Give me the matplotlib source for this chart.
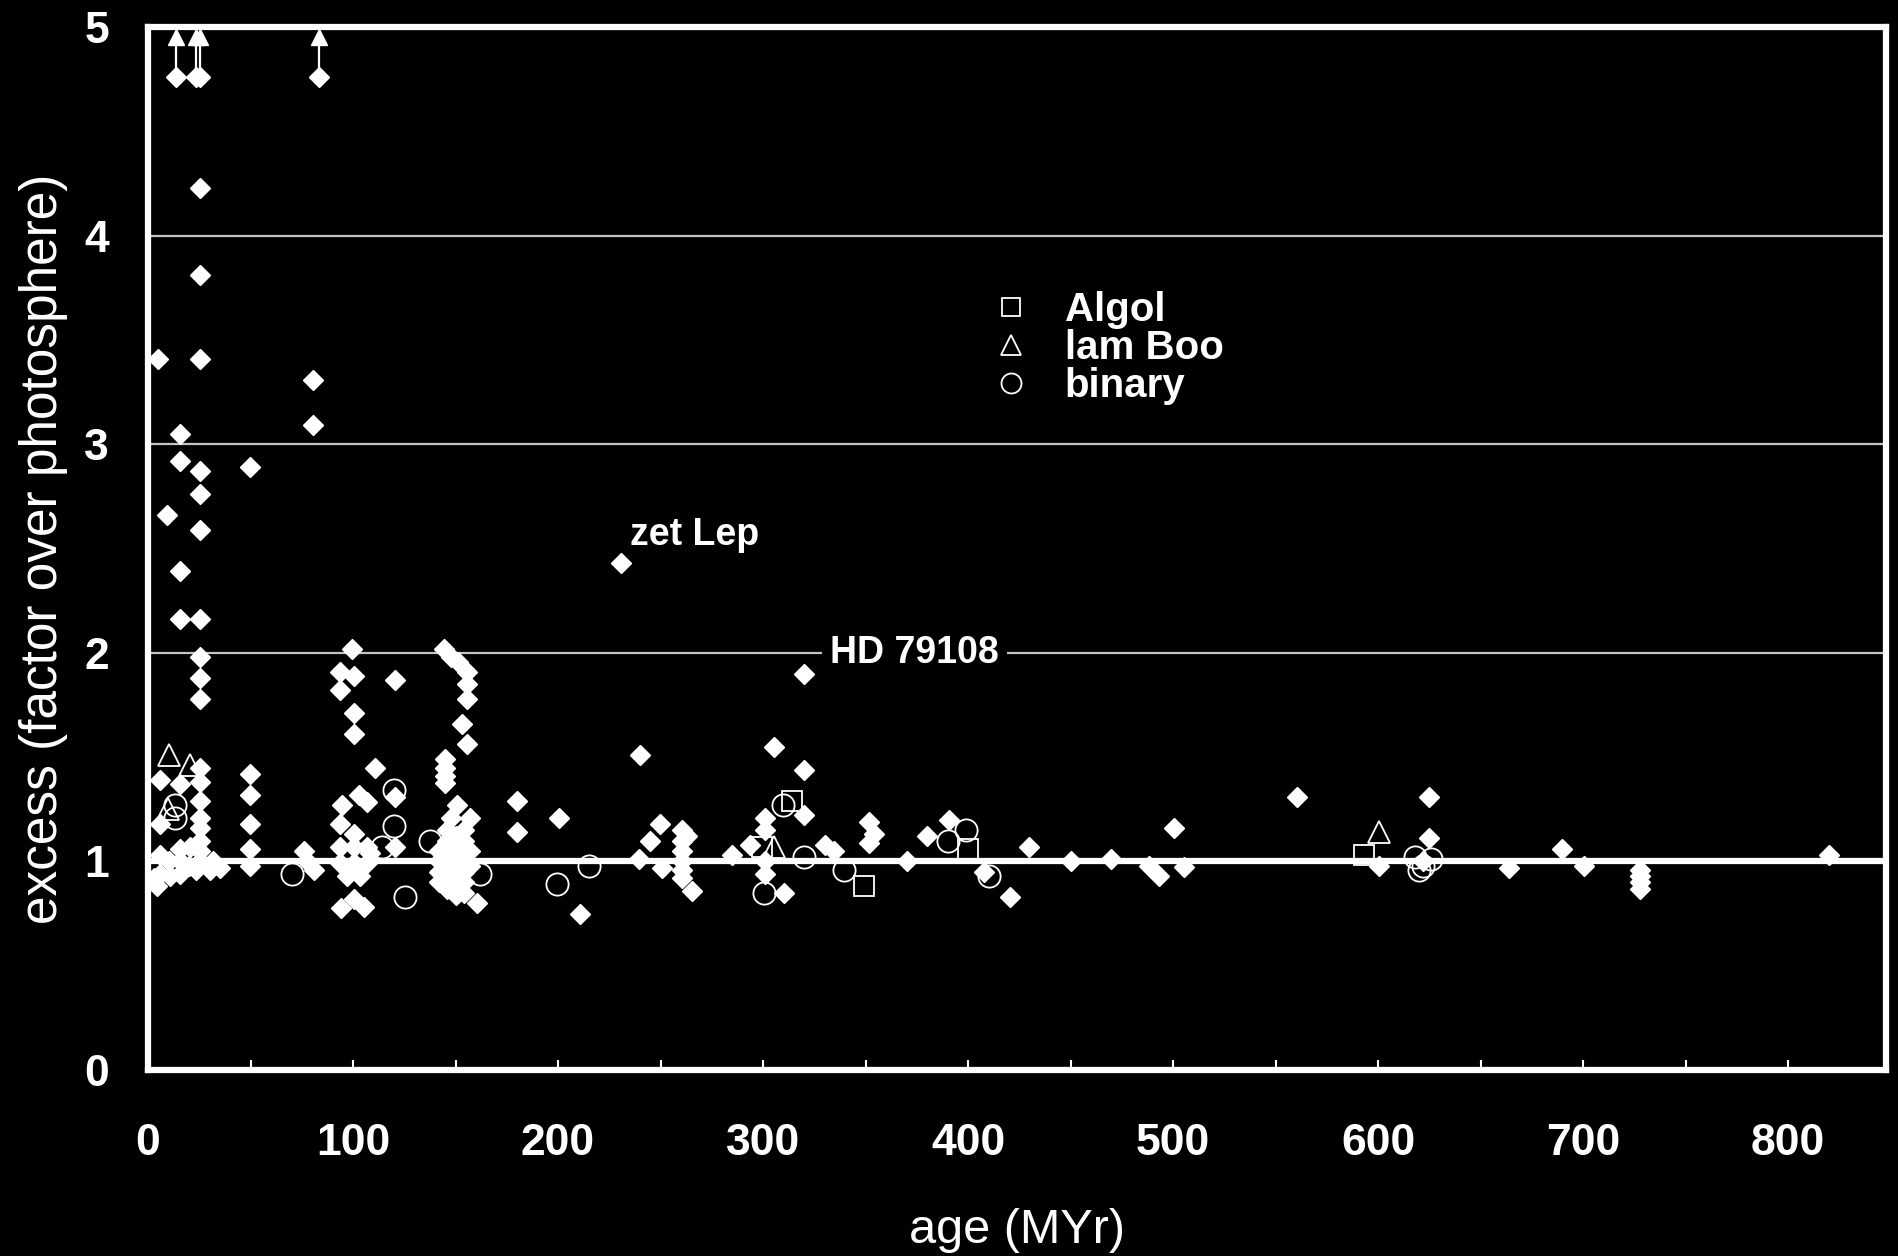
import matplotlib.pyplot as plt
import numpy as np

plt.rcParams['font.family'] = ['Liberation Sans', 'DejaVu Sans']

# excess (factor over photosphere) vs age (MYr)
# plain stars, filled diamonds
star_age = [5, 9.3, 15.4, 15.4, 15.4, 15.4, 25.5, 25.5, 25.5, 25.5, 25.5, 25.5, 25.5, 25.5, 25.5, 25.5,
            49.9, 80.5, 80.5,
            6, 6, 15.4, 25.5, 25.5, 25.5, 25.5, 25.5, 25.5, 25.5, 15.4, 20.6, 6, 6, 10.8, 15.4, 23.5, 30,
            31.6, 15.4, 25.5, 4.3, 10, 20, 35, 3,
            49.9, 49.9, 49.9, 49.9, 49.9, 75.9, 77.5, 80.8,
            99.7, 93.8, 100.3, 93.8, 100.3, 100.3, 110.9, 102.7, 106.8, 94.6, 93.8, 100.3, 93.8, 100.3,
            106.8, 93.8, 100.3, 106.8, 97, 103.5, 108.4, 94, 100.3, 105.2, 120.6, 120.6, 120.6,
            144.2, 148, 151, 155.6, 155.6, 155.6, 153.2, 155.6, 145, 145, 145, 145, 150.7, 157, 148,
            142, 142, 142, 142, 146, 146, 146, 146, 146, 146, 150, 150, 150, 150, 150, 150,
            154, 154, 154, 154, 154, 154, 157, 157, 160.5,
            180, 180, 200.3, 210.9, 230.7, 240.1, 239.3, 245, 249.9, 250.7, 260.5, 260.5, 260.5, 260.5,
            260.5, 260.5, 263, 265.4, 284.9, 293.8, 301.1, 301.1, 301.1, 301.1, 305.2, 310, 319.8,
            319.8, 319.8, 330.4, 334.4, 351.5, 354, 351.5, 370.2, 380, 390.5, 407.6, 429.7, 420.3,
            450, 469.8, 500.6, 493, 488.4, 505.2, 560.3, 600.4, 624.7, 624.7, 622, 663.7, 689.8,
            700.3, 728, 728, 728, 728, 819.8]
star_excess = [3.41, 2.66, 3.05, 2.92, 2.39, 2.16, 4.23, 3.81, 3.41, 2.87, 2.76, 2.59, 2.16, 1.98, 1.88, 1.78,
               2.89, 3.31, 3.09,
               1.39, 1.18, 1.37, 1.45, 1.38, 1.29, 1.21, 1.16, 1.10, 1.05, 1.06, 1.07, 1.03, 0.94, 0.93,
               0.94, 0.96, 0.96, 1.0, 1.0, 1.0, 0.88, 1.0, 0.98, 0.97, 0.92,
               1.42, 1.32, 1.18, 1.06, 0.98, 1.05, 1.0, 0.96,
               2.02, 1.91, 1.89, 1.82, 1.71, 1.61, 1.45, 1.32, 1.285, 1.27, 1.18, 1.13, 1.07, 1.07,
               1.07, 0.99, 0.99, 0.99, 0.93, 0.93, 1.04, 0.775, 0.82, 0.78, 1.87, 1.31, 1.07,
               2.02, 1.98, 1.955, 1.91, 1.85, 1.78, 1.66, 1.565, 1.49, 1.45, 1.41, 1.375, 1.27, 1.21, 1.21,
               1.05, 1.0, 0.95, 0.9, 1.15, 1.1, 1.02, 0.97, 0.92, 0.87, 1.12, 1.05, 0.98, 0.93, 0.88, 0.84,
               1.15, 1.1, 1.0, 0.95, 0.9, 0.85, 1.05, 0.98, 0.80,
               1.29, 1.14, 1.21, 0.75, 2.43, 1.51, 1.01, 1.10, 1.18, 0.97, 1.15, 1.10, 1.05, 1.0,
               0.96, 0.92, 1.12, 0.86, 1.03, 1.08, 1.21, 1.15, 0.94, 1.0, 1.55, 0.85, 1.90,
               1.44, 1.22, 1.08, 1.05, 1.19, 1.13, 1.09, 1.0, 1.12, 1.20, 0.95, 1.07, 0.83,
               1.0, 1.01, 1.16, 0.93, 0.98, 0.975, 1.31, 0.98, 1.31, 1.11, 1.0, 0.97, 1.06,
               0.98, 0.96, 0.93, 0.90, 0.87, 1.03]

# lower limits (excess > 5 shown as arrows)
lim_age = [13.5, 23.5, 25.5, 83.5]
lim_excess = [4.76, 4.76, 4.76, 4.76]
lim_top = [4.95, 4.95, 4.95, 4.95]

algol_age = [299.5, 314.1, 349.1, 400, 593]
algol_excess = [1.07, 1.29, 0.88, 1.06, 1.03]

lamboo_age = [10.1, 20.6, 9.5, 305.2, 600.4]
lamboo_excess = [1.51, 1.46, 1.25, 1.07, 1.14]

binary_age = [13, 13, 70.2, 119.8, 119.8, 114.1, 137.7, 125.5, 162.1, 199.5, 214.9, 300.3, 309.6,
              319.8, 339.3, 390, 398.8, 410, 618, 622, 626, 620]
binary_excess = [1.27, 1.21, 0.94, 1.34, 1.17, 1.07, 1.10, 0.83, 0.94, 0.89, 0.98, 0.85, 1.27,
                 1.02, 0.96, 1.10, 1.15, 0.93, 1.02, 0.98, 1.01, 0.96]

notes = ['zet Lep', 'HD 79108']
note_age = [235.3, 332.8]
note_excess = [2.515, 1.949]

fig = plt.figure(figsize=(18.98, 12.56), dpi=100, facecolor='black')
ax = fig.add_axes([0.078, 0.1481, 0.9159, 0.8304], facecolor='black')

ax.axhline(1, color='white', lw=4.5, zorder=1)

ax.vlines(lim_age, lim_excess, lim_top, color='white', lw=1.6, zorder=3)
ax.plot(lim_age, lim_top, '^', color='white', ms=12, ls='none', zorder=3)
ax.plot(lim_age, lim_excess, 'D', color='white', ms=10, ls='none', zorder=3)

ax.plot(star_age, star_excess, 'D', color='white', ms=10, ls='none', zorder=3)
ax.plot(algol_age, algol_excess, 's', mfc='none', mec='white', mew=1.3, ms=15, ls='none',
        zorder=4, label='Algol')
ax.plot(lamboo_age, lamboo_excess, '^', mfc='none', mec='white', mew=1.3, ms=16, ls='none',
        zorder=4, label='lam Boo')
ax.plot(binary_age, binary_excess, 'o', mfc='none', mec='white', mew=1.3, ms=16, ls='none',
        zorder=4, label='binary')

for i in range(len(notes)):
    t = ax.text(note_age[i], note_excess[i], notes[i], color='white', fontsize=27,
                fontweight='bold', ha='left', va='baseline', zorder=5)
    if notes[i] == 'HD 79108':
        t.set_bbox(dict(facecolor='black', edgecolor='none', pad=6))

leg = ax.legend(loc='upper left', bbox_to_anchor=(410.9, 3.735), bbox_transform=ax.transData,
                frameon=False, fontsize=29, handlelength=1.0, handletextpad=0.85,
                labelspacing=0.0, borderpad=0, borderaxespad=0, markerscale=0.9)
for txt in leg.get_texts():
    txt.set_color('white')
    txt.set_fontweight('bold')

ax.set_xlim(0, 848)
ax.set_ylim(0, 5)
ax.set_xticks(np.arange(0, 801, 100))
ax.set_xticks(np.arange(50, 801, 100), minor=True)
ax.set_yticks(np.arange(0, 6, 1))
ax.yaxis.grid(True, color='#c4c4c4', lw=1.6)
ax.set_axisbelow(True)

ax.tick_params(axis='x', which='both', direction='in', length=7, width=1.5, color='white',
               labelcolor='white', labelsize=32, pad=38)
ax.tick_params(axis='y', length=0, labelcolor='white', labelsize=32, pad=28)
for lab in ax.get_xticklabels() + ax.get_yticklabels():
    lab.set_fontweight('bold')

for s in ax.spines.values():
    s.set_color('white')
    s.set_linewidth(4.5)
    s.set_zorder(6)

ax.set_xlabel('age (MYr)', color='white', fontsize=35, va='top')
ax.xaxis.set_label_coords(0.5, -0.132)
ax.set_ylabel('excess (factor over photosphere)', color='white', fontsize=37)
ax.yaxis.set_label_coords(-0.046, 0.5)

fig.savefig('out.png', dpi=100, facecolor='black')
